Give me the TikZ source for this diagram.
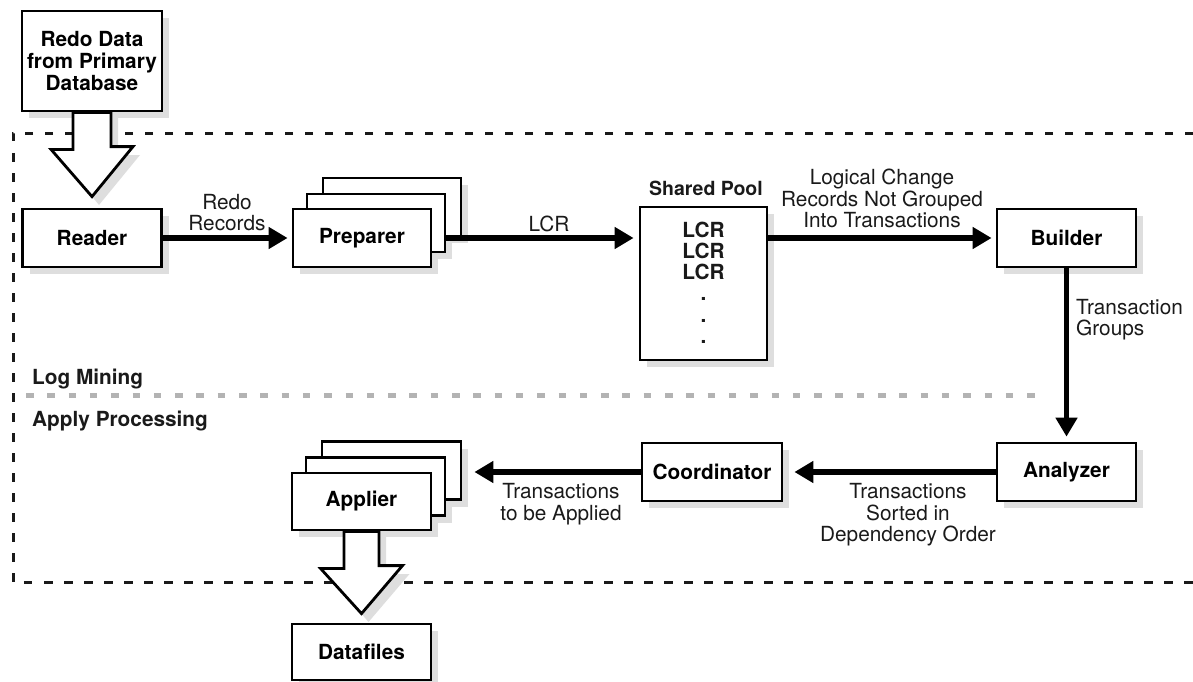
\documentclass[tikz,border=0pt]{standalone}
\usepackage{fontspec}
\setmainfont{TeX Gyre Heros}
\usetikzlibrary{arrows.meta,calc}
\definecolor{sepgray}{HTML}{B3B3B3}
\definecolor{ink}{HTML}{1A1A1A}
% hollow block arrow from the bottom of #1 to the top of #2
% #3 half shaft width, #4 shaft length, #5 head overhang, #6 gap tip-to-#2, #7 head length
\newcommand\hollowshape[7]{([xshift=-#3pt]#1.south) -- ++(0,#4) -- ++(-#5,0)
  -- ([yshift=#6pt]#2.north) -- ++(#3+#5,-#7) -- ++(-#5,0)
  -- ([xshift=#3pt]#1.south) -- cycle}
\begin{document}
\begin{tikzpicture}[x=1pt,y=-1pt,
  box/.style={draw=black,line width=2.8pt,fill=white,inner sep=0pt,
    minimum width=139pt,minimum height=58pt,align=center,
    font=\fontsize{20.8}{22}\selectfont\bfseries},
  lbl/.style={inner sep=0pt,align=center,text=ink,font=\fontsize{20.8}{21.5}\selectfont},
  blbl/.style={inner sep=0pt,align=center,text=ink,font=\fontsize{20.8}{21.5}\selectfont\bfseries},
  flow/.style={line width=5.5pt,-{Triangle[length=19pt,width=21pt]}},
  hollow/.style={draw=black,line width=2.8pt,fill=white,line join=miter},
  frame/.style={line width=3pt,draw=ink,dash pattern=on 8.5pt off 11.5pt},
  sep/.style={line width=5pt,draw=sepgray,dash pattern=on 7.5pt off 13.8pt},
  shadowfill/.style={fill=black!13,draw=none}
]
\useasboundingbox (0,0) rectangle (1193,682);

% region frame and separator
\draw[frame] (1193,133) -- (13,133) -- (13,582) -- (1193,582);
\draw[sep] (26,395) -- (1037,395);
\node[blbl,anchor=base west] (logmining) at (32,384) {Log Mining};
\node[blbl,anchor=base west] (applyproc) at (32,426) {Apply Processing};

% drop shadows (offset 7 right, 7 down)
\fill[shadowfill] (29,18) rectangle (169,118);
\fill[shadowfill] (29.5,216) rectangle (168.5,274);
\fill[shadowfill] (330,185) rectangle (468,243);
\fill[shadowfill] (314,201) rectangle (452,259);
\fill[shadowfill] (300,216) rectangle (438,274);
\fill[shadowfill] (647,214) rectangle (774,367);
\fill[shadowfill] (1004,216) rectangle (1143,274);
\fill[shadowfill] (1004,450) rectangle (1143,508);
\fill[shadowfill] (649,450) rectangle (789,508);
\fill[shadowfill] (329,448.5) rectangle (468,506.5);
\fill[shadowfill] (313,464.5) rectangle (452,522.5);
\fill[shadowfill] (299,480) rectangle (438,537);
\fill[shadowfill] (299,631) rectangle (438,687);
\fill[shadowfill] (80,118) -- (80,155) -- (58,155) -- (99,205) -- (140,155) -- (118,155) -- (118,118) -- cycle;
\fill[shadowfill] (351,537) -- (351,574) -- (327.5,574) -- (368.5,622) -- (409.5,574) -- (386,574) -- (386,537) -- cycle;

% boxes
\node[box,minimum width=140pt,minimum height=100pt] (src) at (92,61) {Redo Data\\from Primary\\Database};
\node[box] (reader) at (92,238) {Reader};

\node[box,minimum width=138pt] (prep3) at (392,207) {};
\node[box,minimum width=138pt] (prep2) at (376,223) {};
\node[box,minimum width=138pt] (prep) at (362,238) {Preparer};

\node[box,minimum width=127pt,minimum height=153pt] (pool) at (703.5,283.5) {};
\node[blbl,font=\fontsize{19.5}{21}\selectfont\bfseries] (poollbl) at (706,188) {Shared Pool};
\node[blbl,anchor=north,font=\fontsize{20.8}{21.2}\selectfont\bfseries] (poolitems) at ([yshift=-16pt]pool.north) {LCR\\LCR\\LCR\\.\\.\\.};

\node[box] (builder) at (1066.5,238) {Builder};
\node[box] (analyzer) at (1066.5,472) {Analyzer};
\node[box,minimum width=140pt] (coord) at (712,472) {Coordinator};

\node[box] (app3) at (391.5,470.5) {};
\node[box] (app2) at (375.5,486.5) {};
\node[box,minimum height=57pt] (app) at (361.5,501.5) {Applier};

\node[box,minimum height=56pt] (data) at (361.5,652) {Datafiles};

% hollow arrows
\draw[hollow] \hollowshape{src}{reader}{19}{37}{22}{11}{50};
\draw[hollow] \hollowshape{app}{data}{17.5}{37}{23.5}{9}{48};

% flows
\draw[flow,shorten >=4pt] (reader.east) -- (prep.west);
\draw[flow,shorten >=5pt] (prep2.east |- prep.center) -- (pool.west |- prep.center);
\draw[flow,shorten >=4pt] (pool.east |- builder.west) -- (builder.west);
\draw[flow,shorten >=5pt] (builder.south) -- (analyzer.north);
\draw[flow,shorten >=11pt] (analyzer.west) -- (coord.east);
\draw[flow,shorten >=12pt] (coord.west) -- (app3.east |- coord.west);

% labels
\node[lbl] (l1) at (227,212.5) {Redo\\Records};
\node[lbl] (l2) at (549,224) {LCR};
\node[lbl] (l3) at (882,198.5) {Logical Change\\Records Not Grouped\\Into Transactions};
\node[lbl,anchor=west,align=left] (l4) at (1076,319.5) {Transaction\\Groups};
\node[lbl] (l5) at (908,515) {Transactions\\Sorted in\\Dependency Order};
\node[lbl] (l6) at (561,504) {Transactions\\to be Applied};
\end{tikzpicture}
\end{document}
